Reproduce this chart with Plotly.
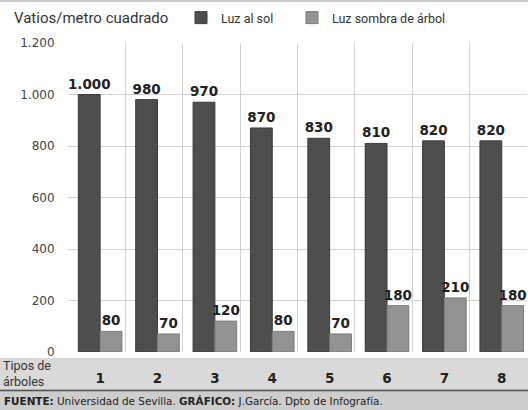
import plotly.graph_objects as go

categories = [1, 2, 3, 4, 5, 6, 7, 8]
sol = [1000, 980, 970, 870, 830, 810, 820, 820]
sombra = [80, 70, 120, 80, 70, 180, 210, 180]
series_names = ["Luz al sol", "Luz sombra de árbol"]
y_ticks = [0, 200, 400, 600, 800, 1000, 1200]

W, H = 528, 410
ML, MR, MT, MB = 68, 1, 43, 58
PW, PH = W - ML - MR, H - MT - MB

def px_x(x):
    return (x - ML) / PW

def px_y(y):
    return (H - MB - y) / PH

FONT = "Roboto"
WIDE = "DejaVu Sans"
DARK = "#4e4e4e"
LIGHT = "#939393"

x_lo = 0.44

fig = go.Figure()
fig.add_bar(
    x=categories, y=sol, name=series_names[0],
    offset=-0.38, width=0.38, constraintext="none",
    marker=dict(color=DARK, line=dict(color="#3a3a3a", width=1)),
    texttemplate="%{y:,d}", textposition="outside", cliponaxis=False,
    textfont=dict(family=WIDE, size=13.5, color="#222222", weight="bold"),
)
fig.add_bar(
    x=categories, y=sombra, name=series_names[1], legend="legend2",
    offset=0.0, width=0.38, constraintext="none",
    marker=dict(color=LIGHT, line=dict(color="#7a7a7a", width=1)),
    texttemplate="%{y:,d}", textposition="outside", cliponaxis=False,
    textfont=dict(family=WIDE, size=13.5, color="#222222", weight="bold"),
)

shapes = [
    dict(type="rect", xref="paper", yref="paper", layer="below",
         x0=px_x(0), x1=px_x(W), y0=px_y(389), y1=px_y(358),
         fillcolor="#d9d9d9", line=dict(width=0)),
    dict(type="rect", xref="paper", yref="paper", layer="below",
         x0=px_x(0), x1=px_x(W), y0=px_y(H), y1=px_y(392),
         fillcolor="#cdcdcd", line=dict(width=0)),
    dict(type="line", xref="paper", yref="paper",
         x0=px_x(0), x1=px_x(W), y0=px_y(390.5), y1=px_y(390.5),
         line=dict(color="#555555", width=2)),
    dict(type="line", xref="paper", yref="paper",
         x0=px_x(0), x1=px_x(W), y0=px_y(1), y1=px_y(1),
         line=dict(color="#cccccc", width=2)),
]

annotations = [
    dict(text="Vatios/metro cuadrado", xref="paper", yref="paper",
         x=px_x(12), y=px_y(18), xanchor="left", yanchor="middle",
         showarrow=False, font=dict(family=FONT, size=15, color="#333333")),
    dict(text="Tipos de<br>árboles", xref="paper", yref="paper",
         x=px_x(1), y=px_y(373), xanchor="left", yanchor="middle", align="left",
         showarrow=False, font=dict(family=FONT, size=12.5, color="#333333")),
    dict(text="<b>FUENTE:</b> Universidad de Sevilla. <b>GRÁFICO:</b> J.García. Dpto de Infografía.",
         xref="paper", yref="paper",
         x=px_x(2), y=px_y(400.5), xanchor="left", yanchor="middle",
         showarrow=False, font=dict(family=WIDE, size=10.4, color="#222222")),
]

legend_common = dict(orientation="h", xref="paper", yref="paper",
                     y=px_y(18), xanchor="left", yanchor="middle",
                     font=dict(family=FONT, size=12.5, color="#333333"),
                     bgcolor="rgba(0,0,0,0)", itemwidth=30)

fig.update_layout(
    width=W, height=H,
    margin=dict(l=ML, r=MR, t=MT, b=MB),
    paper_bgcolor="white", plot_bgcolor="white",
    barmode="overlay",
    separators=",.",
    shapes=shapes, annotations=annotations,
    font=dict(family=FONT, color="#333333"),
    showlegend=True,
    legend=dict(x=px_x(181), **legend_common),
    legend2=dict(x=px_x(292), **legend_common),
    xaxis=dict(range=[x_lo, x_lo + len(categories)], tickvals=categories,
               showgrid=True, gridcolor="rgba(0,0,0,0)", automargin=False,
               ticks="outside", ticklen=14, tickcolor="rgba(0,0,0,0)",
               tickfont=dict(family=WIDE, size=13.5, color="#222222", weight="bold"),
               minor=dict(tick0=x_lo, dtick=1, showgrid=True,
                          gridcolor="#d2d2d2", gridwidth=1),
               zeroline=False, showline=False, fixedrange=True),
    yaxis=dict(range=[0, 1200], tickvals=y_ticks, tickformat=",d",
               showgrid=True, gridcolor="#d2d2d2", gridwidth=1, automargin=False,
               zeroline=False, showline=False, ticks="outside", ticklen=10,
               tickcolor="rgba(0,0,0,0)", fixedrange=True,
               tickfont=dict(family=WIDE, size=12, color="#444444")),
)

fig.write_html("out.html", config={"displayModeBar": False},
               post_script="document.body.style.margin='0';document.body.style.overflow='hidden';")
